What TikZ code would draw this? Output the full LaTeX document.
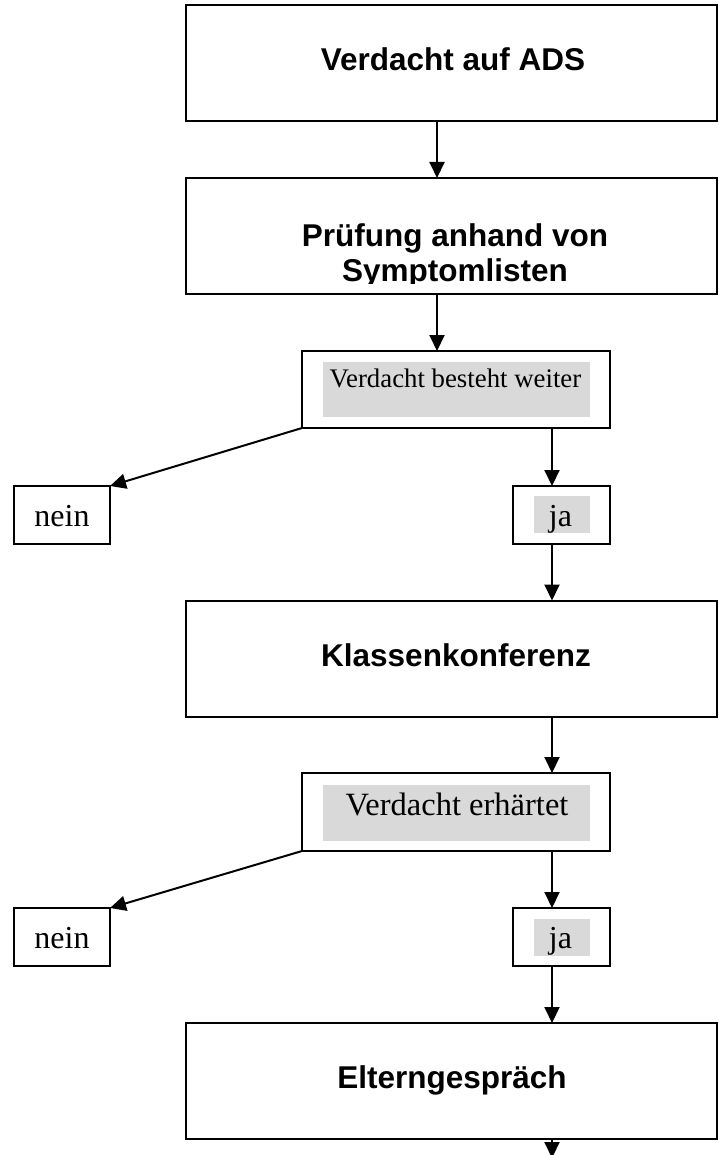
\documentclass[tikz,border=0pt]{standalone}
\usepackage{fontspec}
\setmainfont{Liberation Serif}
\newfontfamily\arialfont{Liberation Sans}
\usetikzlibrary{arrows.meta}
\begin{document}
\begin{tikzpicture}[x=1pt,y=-1pt,
  bigbox/.style={draw, line width=2pt, minimum width=531pt, minimum height=116pt, inner sep=0pt, outer sep=0pt},
  smallbox/.style={draw, line width=2pt, inner sep=0pt, outer sep=0pt},
  shadebox/.style={fill=gray!30, draw=none, inner sep=0pt, outer sep=0pt},
  bigtxt/.style={font=\arialfont\bfseries\fontsize{31.5}{35}\selectfont, inner sep=0pt, align=center},
  smalltxt/.style={inner sep=0pt, anchor=base},
  arr/.style={line width=2pt, -{Triangle[length=16pt,width=15pt]}}]
\useasboundingbox (0,0) rectangle (719,1155);
\clip (0,0) rectangle (719,1155);
\coordinate (c1) at (437,0);
\coordinate (c2) at (552,0);

% Box 1
\node[bigbox] (b1) at (451.5,63) {};
\node[bigtxt, anchor=base] (t1) at (453,71) {Verdacht auf ADS};

% Box 2
\node[bigbox] (b2) at (451.5,236) {};
\begin{scope}
  \clip (186,178) rectangle (717,283.5);
  \node[bigtxt, anchor=north] (t2) at (455,223.5) {Prüfung anhand von\\Symptomlisten};
\end{scope}

% Box 3
\node[smallbox, minimum width=308pt, minimum height=77pt] (v1) at (456,389.5) {};
\node[shadebox, minimum width=267pt, minimum height=55pt] (g1) at (456.5,389.5) {};
\node[smalltxt, font=\fontsize{26.8}{30}\selectfont] (t3) at (455.5,387) {Verdacht besteht weiter};

% nein / ja 1
\node[smallbox, minimum width=96pt, minimum height=58pt] (n1) at (62,515) {};
\node[smalltxt, font=\fontsize{32}{36}\selectfont] (tn1) at (62,526) {nein};
\node[smallbox, minimum width=97pt, minimum height=58pt] (j1) at (561.5,515) {};
\node[shadebox, minimum width=56pt, minimum height=37pt] (gj1) at (562,514.5) {};
\node[smalltxt, font=\fontsize{32}{36}\selectfont] (tj1) at (560.5,526) {ja};

% Box 4
\node[bigbox] (b4) at (451.5,658.5) {};
\node[bigtxt, anchor=base] (t4) at (456,666.5) {Klassenkonferenz};

% Box 5
\node[smallbox, minimum width=308pt, minimum height=78pt] (v2) at (456,812) {};
\node[shadebox, minimum width=267pt, minimum height=56pt] (g2) at (456.5,813) {};
\node[smalltxt, font=\fontsize{32.5}{36}\selectfont] (t5) at (457,815) {Verdacht erhärtet};

% nein / ja 2
\node[smallbox, minimum width=96pt, minimum height=58pt] (n2) at (62,937) {};
\node[smalltxt, font=\fontsize{32}{36}\selectfont] (tn2) at (62,948) {nein};
\node[smallbox, minimum width=97pt, minimum height=58pt] (j2) at (561.5,937) {};
\node[shadebox, minimum width=56pt, minimum height=37pt] (gj2) at (562,937.5) {};
\node[smalltxt, font=\fontsize{32}{36}\selectfont] (tj2) at (560.5,948) {ja};

% Box 6
\node[bigbox] (b6) at (451.5,1081) {};
\node[bigtxt, anchor=base] (t6) at (452,1088) {Elterngespräch};

% Connectors
\coordinate (out) at (552,1158);
\draw[arr] (b1.south -| c1) -- (b2.north -| c1);
\draw[arr] (b2.south -| c1) -- (v1.north -| c1);
\draw[arr] (v1.south west) -- (n1.north east);
\draw[arr] (v1.south -| c2) -- (j1.north -| c2);
\draw[arr] (j1.south -| c2) -- (b4.north -| c2);
\draw[arr] (b4.south -| c2) -- (v2.north -| c2);
\draw[arr] (v2.south west) -- (n2.north east);
\draw[arr] (v2.south -| c2) -- (j2.north -| c2);
\draw[arr] (j2.south -| c2) -- (b6.north -| c2);
\draw[arr] (b6.south -| c2) -- (out);
\end{tikzpicture}
\end{document}
